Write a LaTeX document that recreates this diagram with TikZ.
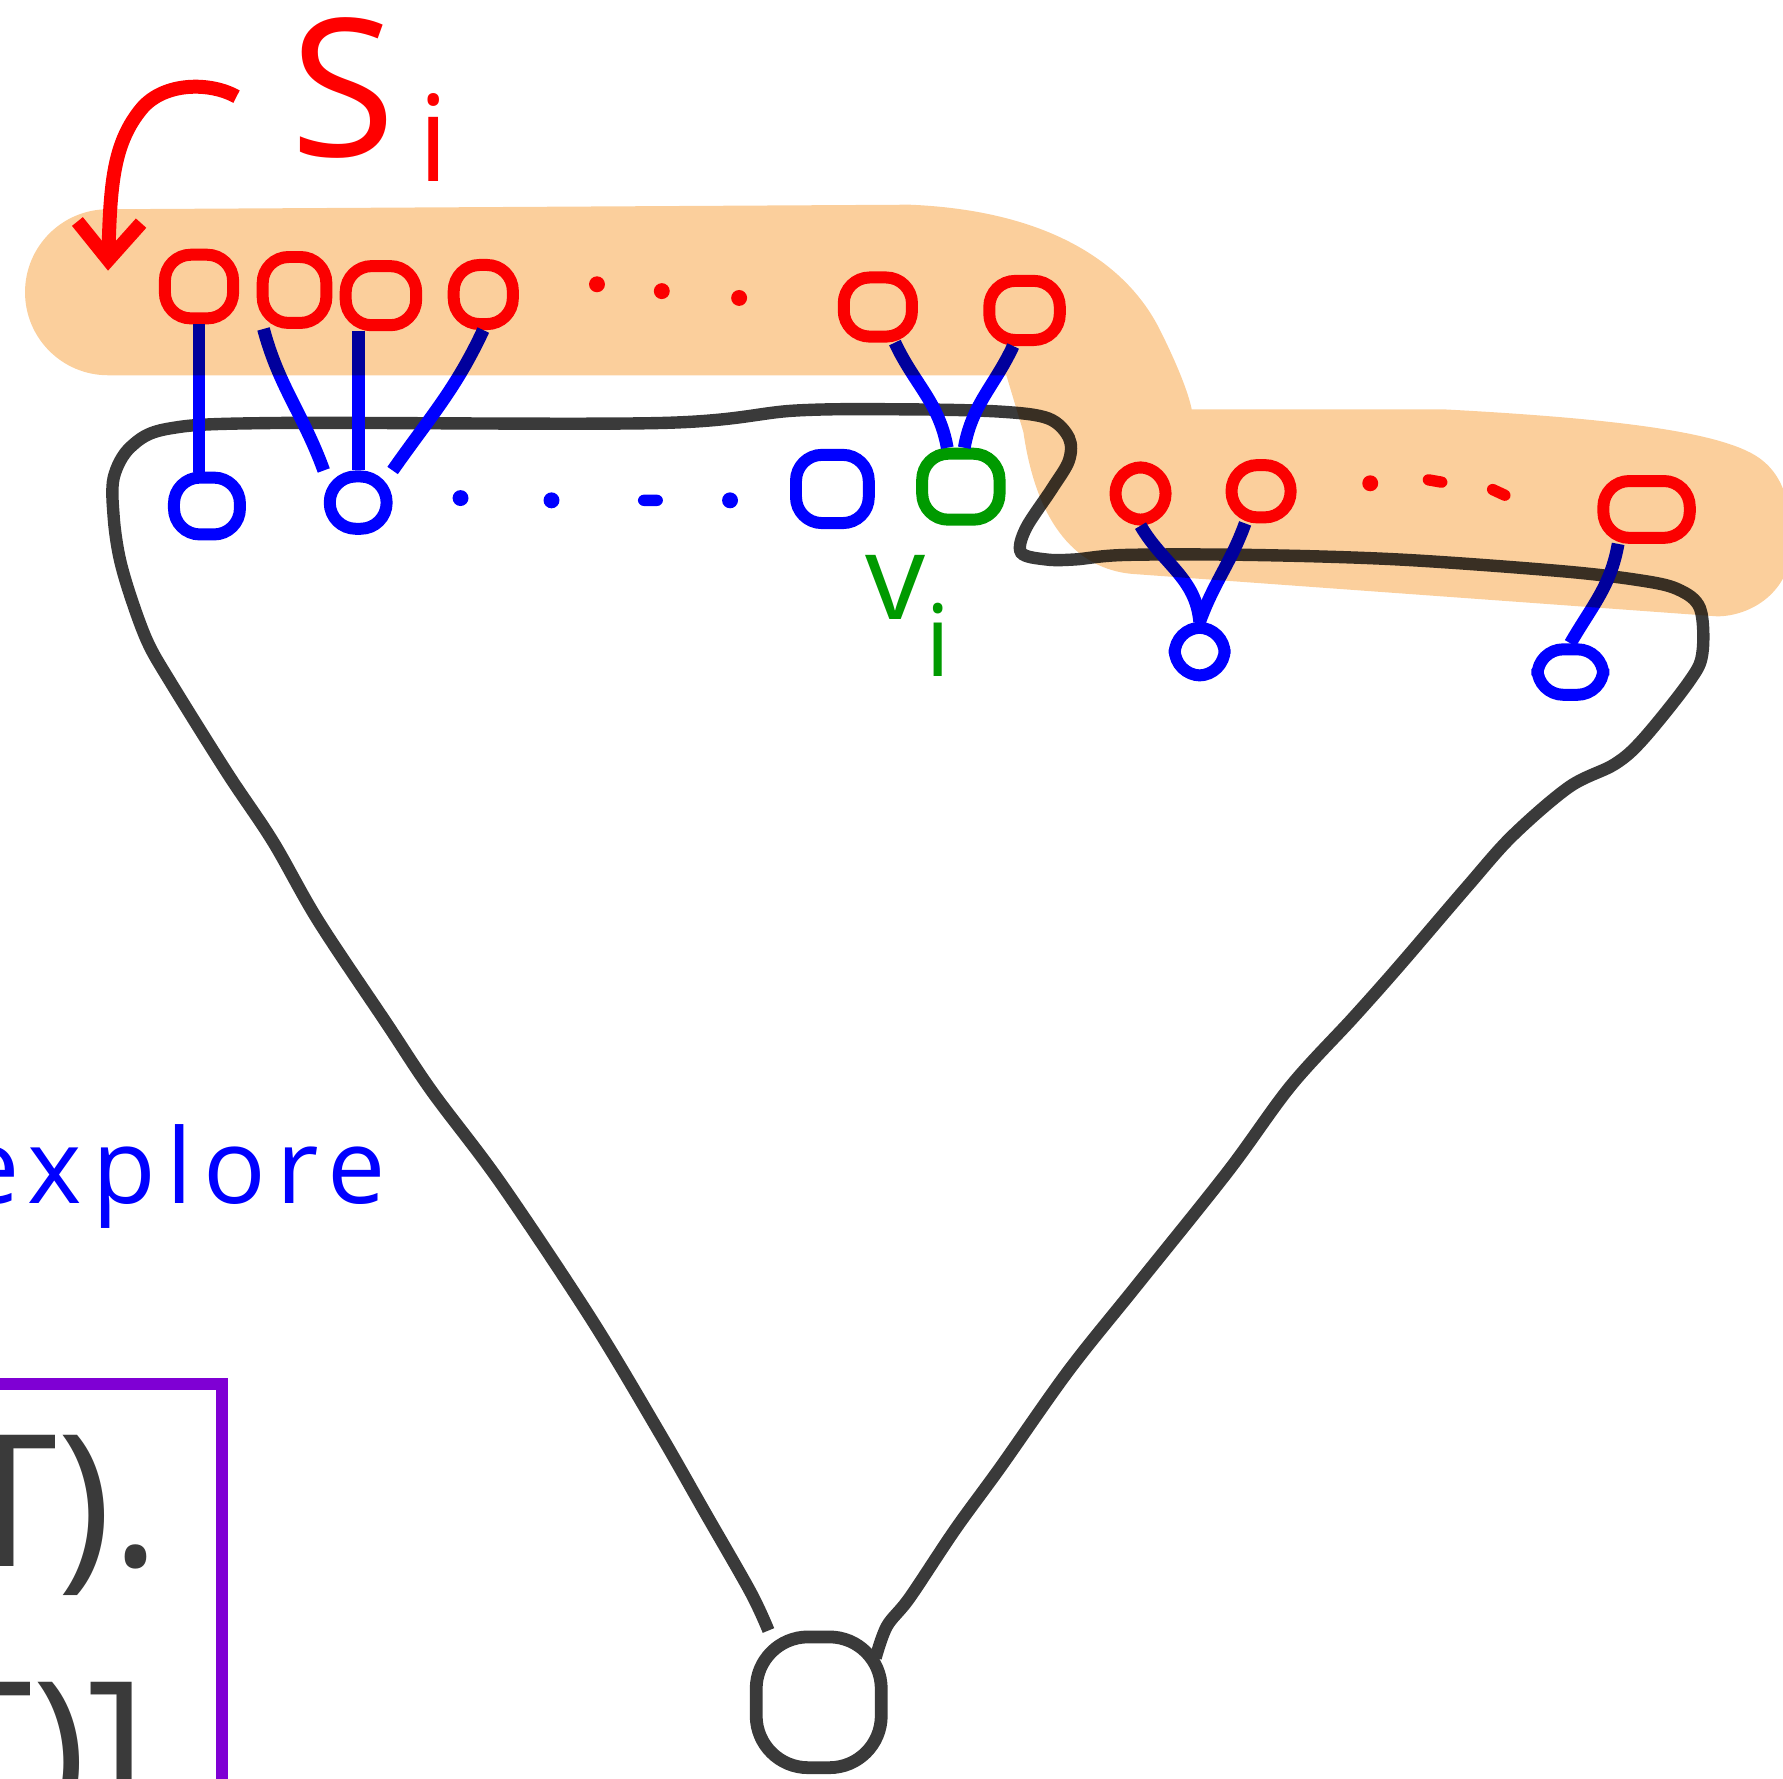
\documentclass[tikz,border=0pt]{standalone}
\usepackage{fontspec}
\newfontfamily\hand{Open Sans}
\newfontfamily\handwide[LetterSpace=10]{Open Sans}
\usetikzlibrary{arrows.meta,positioning}
\definecolor{ink}{HTML}{3A3A3A}
\definecolor{vred}{HTML}{FF0000}
\definecolor{vblue}{HTML}{0000FF}
\definecolor{vgreen}{HTML}{009A00}
\definecolor{peach}{HTML}{FBCF9C}
\definecolor{boxline}{HTML}{7F00D4}
\tikzset{>=Latex,line width=2.4pt,line cap=round,line join=round,
  vert/.style={rectangle,rounded corners=6.5pt,draw,inner sep=0pt,
    minimum width=.56cm,minimum height=.52cm,line width=3pt},
  redvert/.style={vert,draw=vred},
  bluevert/.style={vert,draw=vblue},
  greenvert/.style={vert,draw=vgreen,minimum width=.68cm,minimum height=.58cm},
  rootvert/.style={vert,draw=ink,rounded corners=13pt,minimum width=1.1cm,
    minimum height=1.15cm,line width=3.2pt},
  dotmark/.style={circle,inner sep=0pt,minimum size=.14cm},
  dashmark/.style={rectangle,rounded corners=1.5pt,inner sep=0pt,
    minimum width=.22cm,minimum height=.1cm},
  link/.style={draw=vblue,line width=3.2pt},
  hull/.style={draw=ink,line width=3.1pt},
  hilite/.style={fill=peach},
  redarrow/.style={draw=vred,line width=3.5pt,-{Straight Barb[length=3.3mm,width=5.6mm]}},
  label/.style={inner sep=0pt}}

\begin{document}
\begin{tikzpicture}
\useasboundingbox (0,0) rectangle (15.68,-15.64);
\clip (0,0) rectangle (15.68,-15.64);
% root of the tree
\node[rootvert] (root) at (7.20,-14.97) {};
\draw[hull] plot[smooth,tension=.55] coordinates {(root.125) (6.60,-14.00) (6.20,-13.30) (5.80,-12.60)
  (5.20,-11.60) (4.40,-10.40) (3.80,-9.60) (3.40,-9.00) (2.80,-8.10) (2.40,-7.40) (2.00,-6.80)
  (1.50,-6.00) (1.30,-5.65) (1.15,-5.25) (1.05,-4.90) (1.00,-4.55) (1.00,-4.20) (1.15,-3.93)
  (1.48,-3.77) (2.40,-3.72) (5.80,-3.72) (7.00,-3.61) (8.00,-3.60) (8.80,-3.62)
  (9.22,-3.68) (9.40,-3.85) (9.40,-4.05) (9.25,-4.30) (9.02,-4.65) (8.98,-4.86) (9.20,-4.92)
  (9.45,-4.92) (9.90,-4.88) (11.00,-4.88) (12.30,-4.92) (13.70,-5.02) (14.40,-5.10) (14.75,-5.18)
  (14.95,-5.35) (14.97,-5.75) (14.85,-6.00) (14.45,-6.50) (14.20,-6.72) (13.80,-6.92) (13.30,-7.35)
  (12.90,-7.80) (12.30,-8.50) (11.90,-8.95) (11.35,-9.55) (10.80,-10.30) (10.00,-11.30)
  (9.40,-12.05) (8.80,-12.90) (8.40,-13.45) (8.00,-14.05) (7.80,-14.30) (7.70,-14.58)};
% upper set S_i
\node[redvert,minimum width=.6cm,minimum height=.56cm] (r1) at (1.75,-2.52) {};
\node[redvert,minimum height=.58cm] (r2) at (2.59,-2.55) {};
\node[redvert,minimum width=.62cm] (r3) at (3.35,-2.60) {};\node[redvert,minimum width=.52cm] (r4) at (4.25,-2.59) {};
\node[dotmark,fill=vred] (rd1) at (5.25,-2.50) {};\node[dotmark,fill=vred] (rd2) at (5.82,-2.56) {};
\node[dotmark,fill=vred] (rd3) at (6.50,-2.62) {};
\node[redvert,minimum width=.6cm] (r5) at (7.72,-2.70) {};\node[redvert,minimum width=.62cm] (r6) at (9.01,-2.73) {};
\node[redvert,minimum width=.44cm,minimum height=.46cm] (r7) at (10.03,-4.34) {};
\node[redvert,minimum width=.52cm,minimum height=.46cm] (r8) at (11.09,-4.32) {};
\node[dotmark,fill=vred] (rd4) at (12.05,-4.25) {};
\node[dashmark,fill=vred,rotate=-10] (rd5) at (12.62,-4.23) {};
\node[dashmark,fill=vred,rotate=-25] (rd6) at (13.18,-4.33) {};
\node[redvert,minimum width=.76cm,minimum height=.5cm] (r9) at (14.48,-4.48) {};
% lower level
\node[bluevert,minimum width=.58cm,minimum height=.5cm] (b1) at (1.82,-4.45) {};
\node[bluevert,minimum width=.5cm,minimum height=.46cm] (b2) at (3.15,-4.42) {};
\node[dotmark,fill=vblue] (bd1) at (4.05,-4.38) {};\node[dotmark,fill=vblue] (bd2) at (4.85,-4.40) {};
\node[dashmark,fill=vblue] (bd3) at (5.72,-4.40) {};\node[dotmark,fill=vblue] (bd4) at (6.42,-4.40) {};
\node[bluevert,minimum width=.64cm,minimum height=.6cm] (b3) at (7.32,-4.30) {};
\node[greenvert] (g) at (8.45,-4.28) {};
\node[bluevert,minimum width=.44cm,minimum height=.42cm] (b4) at (10.55,-5.73) {};
\node[bluevert,minimum width=.58cm,minimum height=.4cm] (b5) at (13.81,-5.91) {};
% edges between levels
\draw[link] (r1.south) -- (r1.south |- b1.north);
\draw[link] ([xshift=.6mm]r2.south west) to[out=-75,in=110] (b2.north west);
\draw[link] (b2.north |- r3.south) -- (b2.north);
\draw[link] (r4.south) to[out=-115,in=55] (b2.north east);
\draw[link] ([xshift=1.5mm]r5.south) to[out=-65,in=100] ([xshift=-1.2mm]g.north);
\draw[link] ([xshift=-1mm]r6.south) to[out=-115,in=80] ([xshift=.3mm]g.north);
\draw[link] (r7.south) to[out=-60,in=95] (b4.north);
\draw[link] ([xshift=-1.4mm]r8.south) to[out=-110,in=70] (b4.north);
\draw[link] ([xshift=-2.5mm]r9.south) to[out=-100,in=60] (b5.north);
% highlighted set, laid over the drawing
\begin{scope}[blend mode=multiply]
\fill[hilite] (0.95,-1.84) -- (8.0,-1.80) .. controls (9.2,-1.85) and (9.9,-2.3) .. (10.2,-2.9)
  .. controls (10.35,-3.2) and (10.45,-3.45) .. (10.48,-3.60) -- (12.70,-3.60)
  .. controls (14.2,-3.68) and (15.2,-3.8) .. (15.5,-4.05)
  .. controls (15.75,-4.25) and (15.75,-4.6) .. (15.75,-4.8)
  .. controls (15.75,-5.2) and (15.4,-5.42) .. (15.1,-5.42) -- (10.0,-5.05)
  .. controls (9.4,-5.02) and (9.1,-4.5) .. (9.0,-3.80) -- (8.85,-3.30)
  -- (0.95,-3.30) arc[start angle=270,end angle=90,radius=0.73] -- cycle;
\end{scope}
% labels
\node[label,anchor=base west,text=vred,font={\hand\fontsize{48}{50}\selectfont}] (si) at (2.55,-1.38)
  {S\hspace{.2cm}\raisebox{-.22cm}{\fontsize{30}{30}\selectfont i}};
\coordinate (tail) at (2.08,-0.85);\coordinate (head) at (0.95,-2.38);
\draw[redarrow] (tail) .. controls (1.85,-0.72) and (1.45,-0.72) .. (1.25,-0.95)
  .. controls (1.0,-1.25) and (0.97,-1.6) .. (head);
\node[label,anchor=base west,text=vgreen,font={\hand\fontsize{30}{32}\selectfont}] (vi) at (7.60,-5.45)
  {v\raisebox{-.5cm}{\fontsize{25}{25}\selectfont i}};
\node[label,anchor=base east,text=vblue,font={\handwide\fontsize{26}{28}\selectfont}] (explore) at (3.40,-10.58) {explore};
% boxed formula (cut off)
\draw[boxline,line width=3pt] (-0.2,-12.17) -- (1.95,-12.17) -- (1.95,-15.9);
\node[label,anchor=base east,text=ink,font={\hand\fontsize{46}{46}\selectfont}] (line1) at (1.42,-13.78) {T).};
\node[label,anchor=base east,text=ink,font={\hand\fontsize{46}{46}\selectfont}] (line2) at (1.30,-15.95) {T)]};
\end{tikzpicture}
\end{document}
